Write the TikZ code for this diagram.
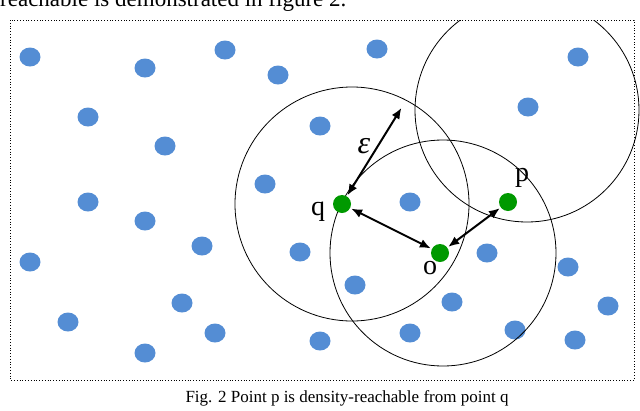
\documentclass[tikz,border=0pt]{standalone}
\usepackage{fontspec}
\setmainfont{Liberation Serif}
\usetikzlibrary{arrows.meta}
\begin{document}
\begin{tikzpicture}[x=1pt,y=-1pt,
  gdot/.style={circle,fill=green!60!black,minimum size=18pt,inner sep=0pt},
  ring/.style={draw=black,line width=0.8pt},
  arr/.style={{Latex[length=11pt,width=9pt]}-{Latex[length=11pt,width=9pt]},line width=2pt,shorten <=1pt,shorten >=1pt}]
\useasboundingbox (0,0) rectangle (640,410);
\begin{scope}
\clip (0,0) rectangle (640,410);
\node[anchor=north west,inner sep=0pt,font=\fontsize{23}{24}\selectfont] (hdr) at (0,-10) {reachable is demonstrated in figure 2.};
\end{scope}
\draw[dotted,line width=0.8pt] (10,20) rectangle (634,380);
\foreach \x/\y [count=\i] in {30/57,145/68,225/50,278/75,377/49,578/57,88/117,165/146,320/126,528/107,265/184,88/202,145/221,410/202,202/246,300/252,30/262,487/253,568/267,355/285,182/303,452/302,608/306,68/322,215/333,320/341,410/333,515/330,575/340,145/353}
  \fill[color={rgb,255:red,84;green,141;blue,212}] (\x,\y) ellipse (10.5pt and 9.5pt);
\begin{scope}
\clip (10,20) rectangle (640,380);
\draw[ring] (352,204) circle (117);
\draw[ring] (443,253) circle (113);
\draw[ring] (527,110) circle (112);
\end{scope}
\node[gdot] (q) at (342,204) {};
\node[gdot] (o) at (440,253) {};
\node[gdot] (p) at (508,202) {};
\coordinate (e) at (402,107);
\draw[arr] (e) -- (q);
\draw[arr] (q) -- (o);
\draw[arr] (o) -- (p);
\node[font=\fontsize{32}{32}\selectfont\itshape] (eps) at (364,146) {ε};
\node[font=\fontsize{28}{28}\selectfont] (ql) at (318,212) {q};
\node[font=\fontsize{28}{28}\selectfont] (ol) at (430,268) {o};
\node[font=\fontsize{28}{28}\selectfont] (pl) at (522,178) {p};
\node[font=\fontsize{17}{18}\selectfont] (cap) at (347,398) {Fig. 2 Point p is density-reachable from point q};
\end{tikzpicture}
\end{document}
